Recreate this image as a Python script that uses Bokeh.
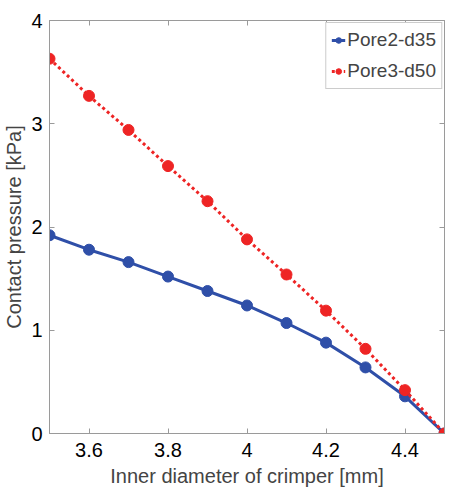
from bokeh.plotting import figure
from bokeh.models import LinearAxis, FixedTicker, Range1d, Legend, LegendItem
from bokeh.embed import file_html
from bokeh.resources import INLINE

diam = [3.5, 3.6, 3.7, 3.8, 3.9, 4.0, 4.1, 4.2, 4.3, 4.4, 4.5]
pore2_d35 = [1.92, 1.78, 1.66, 1.52, 1.38, 1.24, 1.07, 0.88, 0.64, 0.36, 0.0]
pore3_d50 = [3.63, 3.27, 2.94, 2.59, 2.25, 1.88, 1.54, 1.19, 0.82, 0.42, 0.0]
x_ticks = [3.6, 3.8, 4.0, 4.2, 4.4]
x_tick_labels = ["3.6", "3.8", "4", "4.2", "4.4"]
y_ticks = [0, 1, 2, 3, 4]
y_tick_labels = ["0", "1", "2", "3", "4"]

FONT = "Liberation Sans"
BLUE = "#2f4fa8"
RED = "#ee2424"
AX = "#9a9a9a"

p = figure(width=451, height=489, output_backend="svg", toolbar_location=None,
           x_range=Range1d(3.5, 4.5), y_range=Range1d(0, 4),
           min_border_left=49, min_border_right=7, min_border_top=20, min_border_bottom=52)
p.xgrid.visible = False
p.ygrid.visible = False
p.outline_line_color = AX
p.outline_line_width = 1

r1 = p.line(diam, pore2_d35, line_color=BLUE, line_width=3)
m1 = p.scatter(diam, pore2_d35, size=11, fill_color=BLUE, line_color=BLUE)
r2 = p.line(diam, pore3_d50, line_color=RED, line_width=3, line_dash="3 3")
m2 = p.scatter(diam, pore3_d50, size=11, fill_color=RED, line_color=RED)

# legend-only glyphs (small markers, as in the reference legend); NaN keeps them off the plot
nan = float("nan")
lg1 = p.scatter([nan], [nan], size=7, fill_color=BLUE, line_color=BLUE)
lg2 = p.scatter([nan], [nan], size=7, fill_color=RED, line_color=RED)

def style(ax):
    ax.axis_line_color = AX
    ax.major_tick_line_color = AX
    ax.major_tick_in = 5
    ax.major_tick_out = 0
    ax.minor_tick_line_color = None
    ax.major_label_text_font = FONT
    ax.major_label_text_font_size = "20px"
    ax.major_label_text_color = "black"
    ax.axis_label_text_font = FONT
    ax.axis_label_text_font_size = "20px"
    ax.axis_label_text_font_style = "normal"

xa = p.xaxis[0]
xa.ticker = FixedTicker(ticks=x_ticks)
xa.major_label_overrides = {t: l for t, l in zip(x_ticks, x_tick_labels)}
xa.axis_label = "Inner diameter of crimper [mm]"
style(xa)
xa.major_label_standoff = 9
xa.axis_label_standoff = 5

ya = p.yaxis[0]
ya.ticker = FixedTicker(ticks=y_ticks)
ya.major_label_overrides = {t: l for t, l in zip(y_ticks, y_tick_labels)}
ya.axis_label = "Contact pressure [kPa]"
style(ya)
ya.major_label_standoff = 7
ya.axis_label_standoff = 3

# box axes on top and right: ticks only (drawn as minor ticks, no labels)
def box_axis(ticks, side):
    ax = LinearAxis(ticker=FixedTicker(ticks=[], minor_ticks=ticks))
    ax.axis_line_color = AX
    ax.major_tick_line_color = None
    ax.minor_tick_line_color = AX
    ax.minor_tick_in = 5
    ax.minor_tick_out = 0
    p.add_layout(ax, side)

box_axis(x_ticks, "above")
box_axis(y_ticks, "right")

legend = Legend(items=[LegendItem(label="Pore2-d35", renderers=[r1, lg1]),
                       LegendItem(label="Pore3-d50", renderers=[r2, lg2])],
                location="top_right")
legend.label_text_font = FONT
legend.label_text_font_size = "19px"
legend.border_line_color = AX
legend.border_line_width = 1
legend.glyph_width = 14
legend.glyph_height = 24
legend.label_height = 24
legend.spacing = 7
legend.padding = 5
legend.margin = 2
legend.label_standoff = 2
legend.background_fill_alpha = 1
p.add_layout(legend)

open("out.html", "w").write(file_html(p, INLINE))
